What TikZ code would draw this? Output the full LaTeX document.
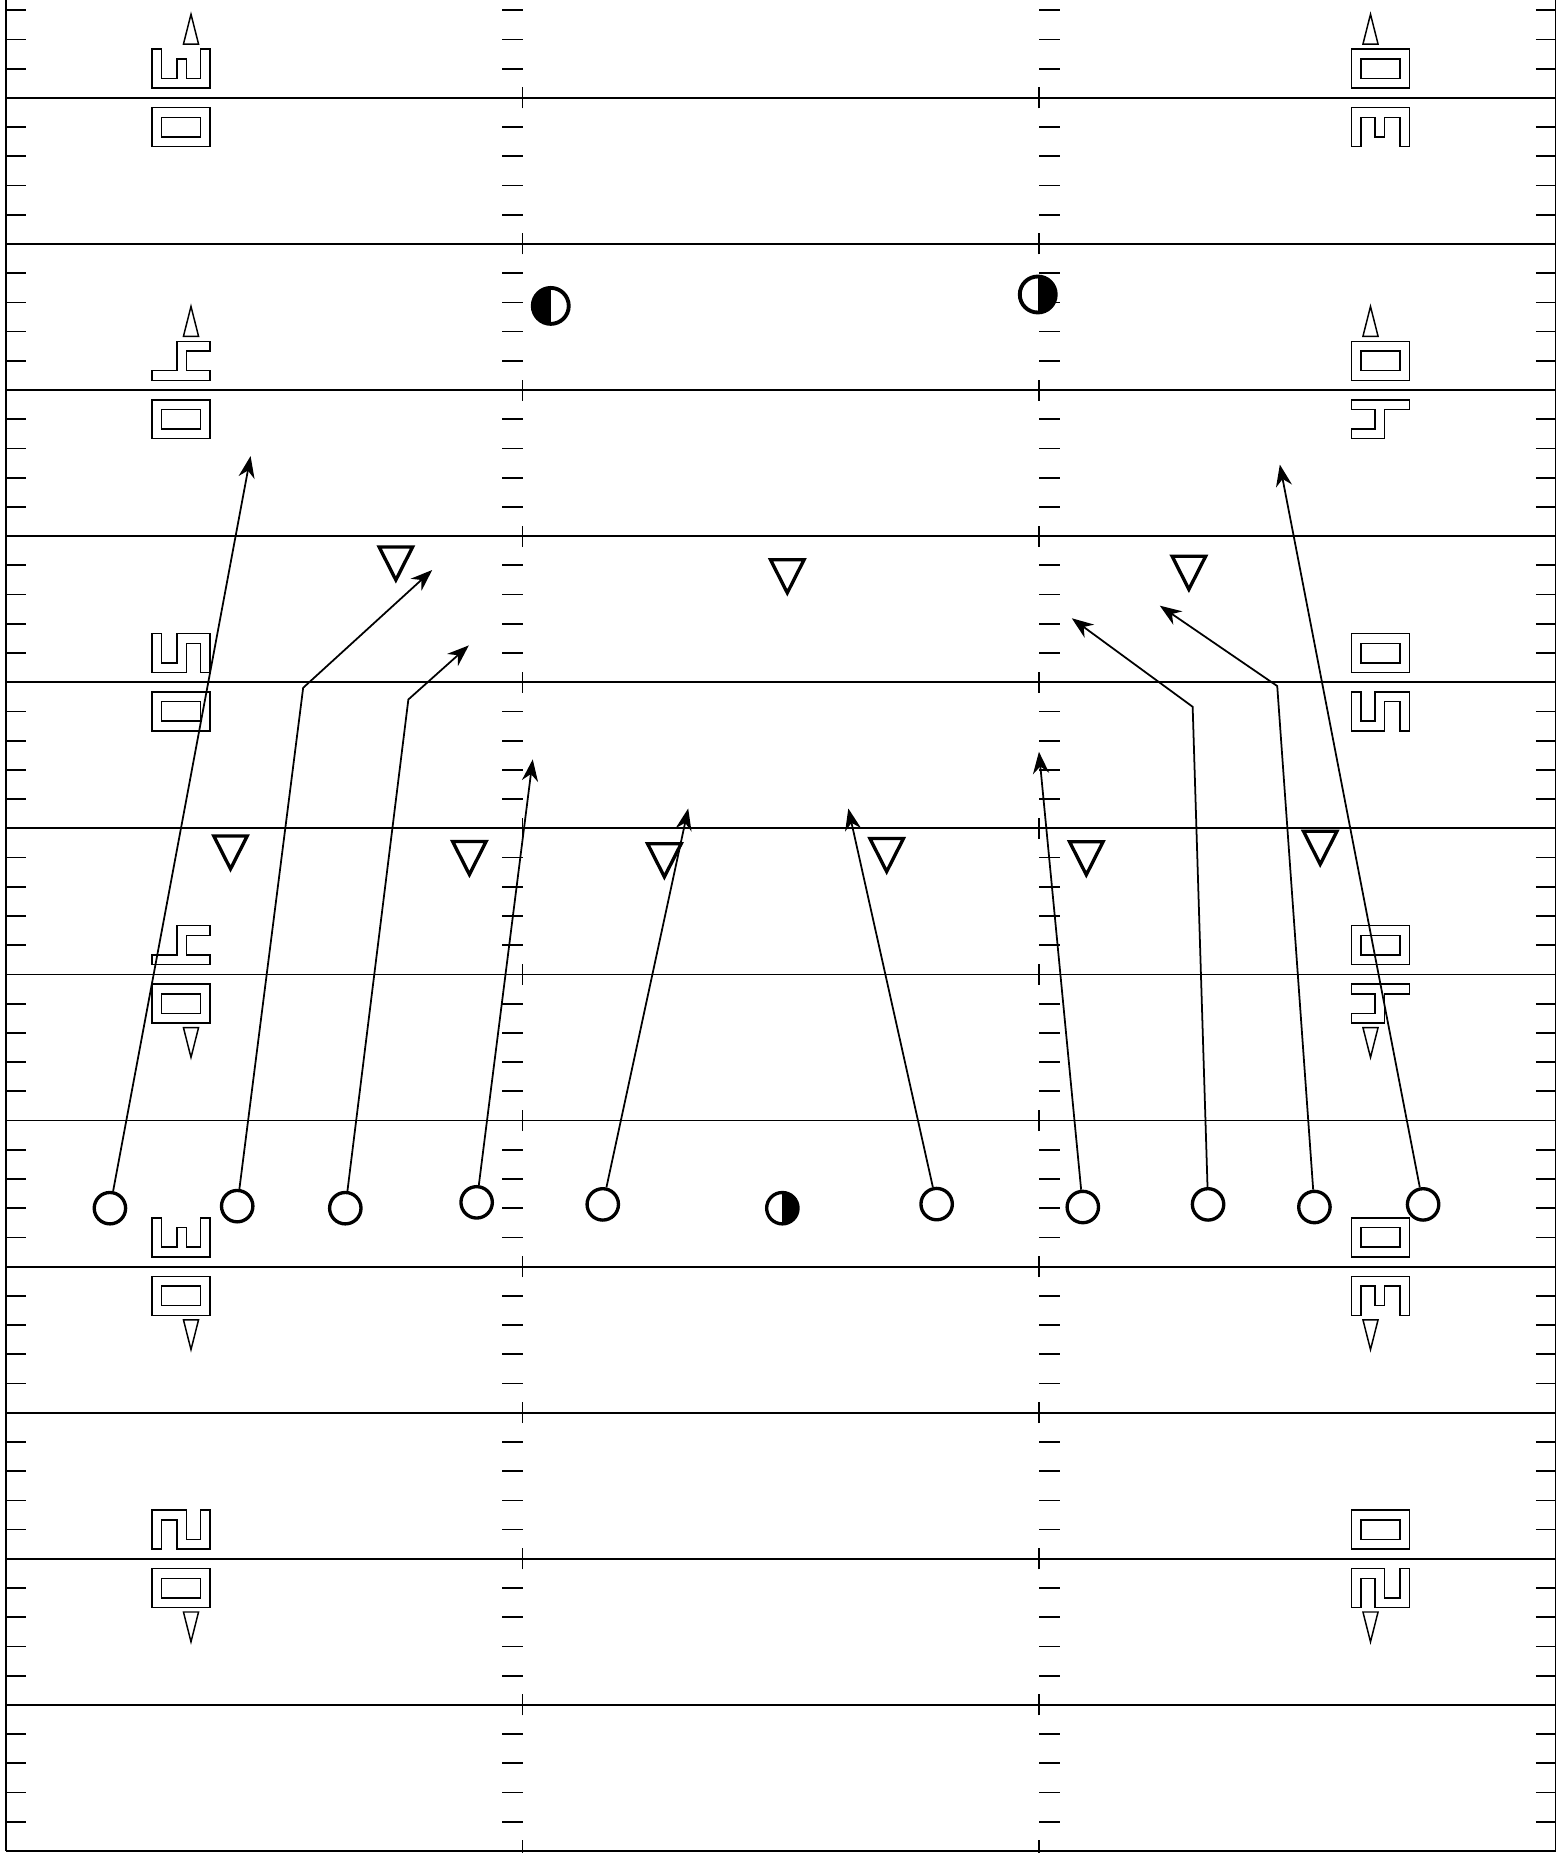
\documentclass[tikz,border=0pt]{standalone}
\usetikzlibrary{arrows.meta}
\begin{document}
\begin{tikzpicture}[x=0.2906cm, y=0.2922cm, >={Stealth[length=6.2pt,width=4.6pt]},
	fieldline/.style={line width=0.5pt},
	digit/.style={line width=0.42pt},
	route/.style={->, line width=0.5pt},
	player/.style={circle, draw, fill=white, line width=0.95pt, inner sep=0pt, minimum size=0.314cm},
	ballleft/.style={player, path picture={\fill[black] (path picture bounding box.south west) rectangle (path picture bounding box.north);}},
	ballright/.style={player, path picture={\fill[black] (path picture bounding box.south) rectangle (path picture bounding box.north east);}},
	deep/.style={minimum size=0.36cm, line width=1.1pt},
	defender/.pic={\draw[line width=0.95pt] (-0.576,0.6) -- (0.576,0.6) -- (0,-0.53) -- cycle;},
	zero/.pic={\draw[digit] (-1,-2/3) rectangle (1,2/3) (-2/3,-1/3) rectangle (2/3,1/3);},
	two/.pic={\draw[digit] (-1,-2/3) -- (-1,2/3) -- (0.18,2/3) -- (0.18,-1/3) -- (2/3,-1/3) -- (2/3,2/3) -- (1,2/3) -- (1,-2/3) -- (-0.15,-2/3) -- (-0.15,1/3) -- (-2/3,1/3) -- (-2/3,-2/3) -- cycle;},
	three/.pic={\draw[digit] (-1,2/3) -- (-1,-2/3) -- (1,-2/3) -- (1,2/3) -- (2/3,2/3) -- (2/3,-1/3) -- (0.18,-1/3) -- (0.18,1/3) -- (-0.15,1/3) -- (-0.15,-1/3) -- (-2/3,-1/3) -- (-2/3,2/3) -- cycle;},
	four/.pic={\draw[digit] (-0.15,2/3) -- (1,2/3) -- (1,1/3) -- (0.18,1/3) -- (0.18,-1/3) -- (1,-1/3) -- (1,-2/3) -- (-1,-2/3) -- (-1,-1/3) -- (-0.15,-1/3) -- cycle;},
	five/.pic={\draw[digit] (-1,2/3) -- (-2/3,2/3) -- (-2/3,-1/3) -- (-0.15,-1/3) -- (-0.15,2/3) -- (1,2/3) -- (1,-2/3) -- (2/3,-2/3) -- (2/3,1/3) -- (0.18,1/3) -- (0.18,-2/3) -- (-1,-2/3) -- cycle;},
	goalup/.pic={\draw[digit] (-0.26,0) -- (0.26,0) -- (0,1.02) -- cycle;},
	goaldown/.pic={\draw[digit] (-0.26,0) -- (0.26,0) -- (0,-1.02) -- cycle;}]
	\useasboundingbox (-0.203,-0.068) rectangle (53.41,63.35);
	\draw[fieldline] (0,0) -- (0,63.5) (53.33,0) -- (53.33,63.5);
	\foreach \y in {0,5,...,60}
		\draw[fieldline] (0,\y) -- (53.33,\y) (17.78,\y-0.36) -- (17.78,\y+0.36) (35.56,\y-0.36) -- (35.56,\y+0.36);
	\foreach \y in {1,...,63}{
		\pgfmathtruncatemacro\r{mod(\y,5)}
		\ifnum\r>0
			\draw[fieldline] (0,\y) -- (0.68,\y) (17.08,\y) -- (17.78,\y) (35.56,\y) -- (36.26,\y) (52.65,\y) -- (53.33,\y);
		\fi}
	\foreach \l/\d in {60/three, 50/four, 40/five, 30/four, 20/three, 10/two}{
		\pic at (6.03,\l+1) {\d};
		\pic at (6.03,\l-1) {zero};
		\pic at (47.30,\l+1) {zero};
		\begin{scope}[shift={(47.30,\l-1)}, rotate=180]
			\pic[transform shape] {\d};
		\end{scope}}
	\foreach \l in {60,50}{
		\pic at (6.37,\l+1.84) {goalup};
		\pic at (46.96,\l+1.84) {goalup};}
	\foreach \l in {30,20,10}{
		\pic at (6.37,\l-1.82) {goaldown};
		\pic at (46.96,\l-1.82) {goaldown};}
	\pic (d1) at (13.42,44.03) {defender};
	\pic (d2) at (26.89,43.59) {defender};
	\pic (d3) at (40.71,43.71) {defender};
	\pic (d4) at (7.73,34.14) {defender};
	\pic (d5) at (15.95,33.95) {defender};
	\pic (d6) at (22.66,33.87) {defender};
	\pic (d7) at (30.31,34.05) {defender};
	\pic (d8) at (37.18,33.94) {defender};
	\pic (d9) at (45.23,34.30) {defender};
	\node[ballleft, deep] (s1) at (18.75,52.88) {};
	\node[ballright, deep] (s2) at (35.51,53.27) {};
	\node[player] (p1) at (3.58,22.00) {};
	\node[player] (p2) at (7.96,22.07) {};
	\node[player] (p3) at (11.68,22.00) {};
	\node[player] (p4) at (16.20,22.20) {};
	\node[player] (p5) at (20.54,22.13) {};
	\node[ballright] (c) at (26.72,22.00) {};
	\node[player] (p6) at (32.03,22.14) {};
	\node[player] (p7) at (37.06,22.04) {};
	\node[player] (p8) at (41.37,22.13) {};
	\node[player] (p9) at (45.03,22.04) {};
	\node[player] (p10) at (48.77,22.13) {};
	\coordinate (e1) at (8.42,47.74);
	\coordinate (b2) at (10.23,39.81);
	\coordinate (e2) at (14.67,43.84);
	\coordinate (b3) at (13.85,39.41);
	\coordinate (e3) at (15.93,41.26);
	\coordinate (e4) at (18.13,37.36);
	\coordinate (e5) at (23.48,35.68);
	\coordinate (e6) at (28.99,35.68);
	\coordinate (e7) at (35.55,37.62);
	\coordinate (b8) at (40.84,39.16);
	\coordinate (e8) at (36.68,42.19);
	\coordinate (b9) at (43.75,39.87);
	\coordinate (e9) at (39.71,42.62);
	\coordinate (e10) at (43.84,47.45);
	\draw[route] (p1) -- (e1);
	\draw[route] (p2) -- (b2) -- (e2);
	\draw[route] (p3) -- (b3) -- (e3);
	\draw[route] (p4) -- (e4);
	\draw[route] (p5) -- (e5);
	\draw[route] (p6) -- (e6);
	\draw[route] (p7) -- (e7);
	\draw[route] (p8) -- (b8) -- (e8);
	\draw[route] (p9) -- (b9) -- (e9);
	\draw[route] (p10) -- (e10);
\end{tikzpicture}
\end{document}
